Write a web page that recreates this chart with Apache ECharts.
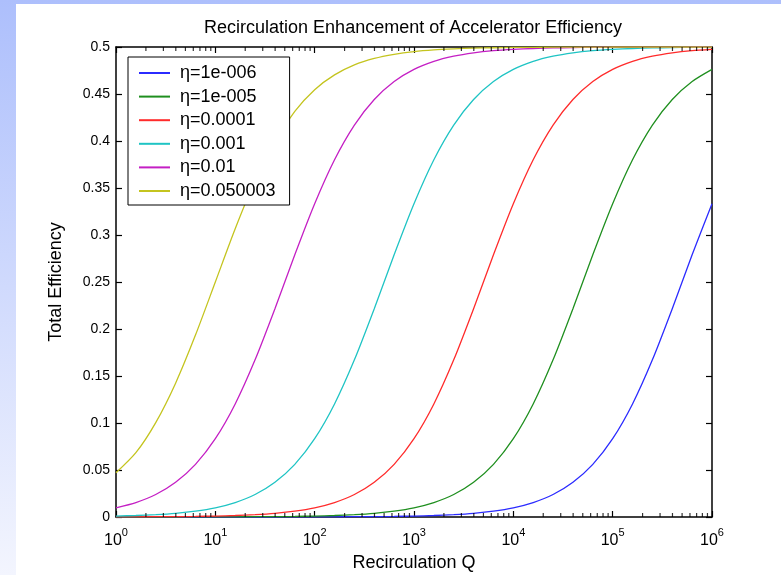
<!DOCTYPE html>
<html>
<head>
<meta charset="utf-8">
<script src="https://cdn.jsdelivr.net/npm/echarts@6/dist/echarts.min.js"></script>
<style>
html,body{margin:0;padding:0;background:#fff;}
#main{width:781px;height:575px;}
</style>
</head>
<body>
<div id="main"></div>
<script>
// Recirculation Q (x values, log-spaced, 5 per decade)
const Q = [1, 1.585, 2.512, 3.981, 6.31, 10, 15.85, 25.12, 39.81, 63.1,
  100, 158.5, 251.2, 398.1, 631, 1000, 1585, 2512, 3981, 6310,
  10000, 15849, 25119, 39811, 63096, 100000, 158489, 251189, 398107, 630957, 1000000];

const seriesNames = ['η=1e-006', 'η=1e-005', 'η=0.0001', 'η=0.001', 'η=0.01', 'η=0.050003'];

const eta1e6 = [0,0,0,0,0,0,0,0,0,0.0001,0.0001,0.0002,0.0003,0.0004,0.0006,0.001,0.0016,0.0025,0.0039,0.0062,0.0098,0.0154,0.0239,0.0369,0.056,0.0833,0.1203,0.1672,0.2216,0.279,0.3333];
const eta1e5 = [0,0,0,0,0.0001,0.0001,0.0002,0.0003,0.0004,0.0006,0.001,0.0016,0.0025,0.0039,0.0062,0.0098,0.0154,0.0239,0.0369,0.056,0.0833,0.1203,0.1672,0.2216,0.279,0.3333,0.3801,0.417,0.4442,0.4633,0.4762];
const eta1e4 = [0.0001,0.0002,0.0003,0.0004,0.0006,0.001,0.0016,0.0025,0.0039,0.0062,0.0098,0.0154,0.0239,0.0369,0.056,0.0833,0.1203,0.1672,0.2216,0.279,0.3333,0.3801,0.417,0.4442,0.4633,0.4762,0.4847,0.4902,0.4938,0.4961,0.4975];
const eta1e3 = [0.001,0.0016,0.0025,0.0039,0.0062,0.0098,0.0154,0.0239,0.0369,0.056,0.0833,0.1203,0.1672,0.2216,0.279,0.3333,0.3801,0.417,0.4442,0.4633,0.4762,0.4847,0.4902,0.4938,0.4961,0.4975,0.4984,0.499,0.4994,0.4996,0.4998];
const eta1e2 = [0.0098,0.0154,0.0239,0.0369,0.056,0.0833,0.1203,0.1672,0.2216,0.279,0.3333,0.3801,0.417,0.4442,0.4633,0.4762,0.4847,0.4902,0.4938,0.4961,0.4975,0.4984,0.499,0.4994,0.4996,0.4998,0.4998,0.4999,0.4999,0.5,0.5];
const eta005 = [0.047,0.0684,0.1004,0.1424,0.1935,0.25,0.3066,0.3576,0.3996,0.4316,0.4546,0.4703,0.4809,0.4878,0.4922,0.4951,0.4969,0.498,0.4988,0.4992,0.4995,0.4997,0.4998,0.4999,0.4999,0.5,0.5,0.5,0.5,0.5,0.5];

const seriesValues = [eta1e6, eta1e5, eta1e4, eta1e3, eta1e2, eta005];
const colors = ['#2b2bff', '#1f8f1f', '#ff2b2b', '#1fc4c4', '#c41fc4', '#c4c41f'];

const xTickExponents = ['0', '1', '2', '3', '4', '5', '6'];
const minorTickMultipliers = [2, 3, 4, 5, 6, 7, 8, 9];
const decades = [1, 10, 100, 1000, 10000, 100000];

const FONT = '"Liberation Sans", Arial, Helvetica, sans-serif';

const minorBottom = [], minorTop = [];
decades.forEach(d => minorTickMultipliers.forEach(m => {
  minorBottom.push([m * d, 0]);
  minorTop.push([m * d, 0.5]);
}));

const lineSeries = seriesNames.map((name, i) => ({
  name: name,
  type: 'line',
  data: Q.map((q, j) => [q, seriesValues[i][j]]),
  showSymbol: false,
  symbol: 'none',
  smooth: 0.25,
  lineStyle: { color: colors[i], width: 1.3 },
  itemStyle: { color: colors[i] },
  clip: true,
  silent: true,
  z: 3
}));

const tickSeries = [
  { type: 'scatter', data: minorBottom, symbol: 'rect', symbolSize: [1.2, 4], symbolOffset: [0, -2],
    itemStyle: { color: '#000' }, silent: true, clip: false, z: 5 },
  { type: 'scatter', data: minorTop, symbol: 'rect', symbolSize: [1.2, 4], symbolOffset: [0, 2],
    itemStyle: { color: '#000' }, silent: true, clip: false, z: 5 }
];

const axisLineStyle = { color: '#000', width: 1.5 };

const chart = echarts.init(document.getElementById('main'), null, { renderer: 'canvas' });
chart.setOption({
  animation: false,
  textStyle: { fontFamily: FONT },
  graphic: [
    { type: 'rect', z: -100, silent: true, shape: { x: 0, y: 0, width: 781, height: 575 },
      style: { fill: new echarts.graphic.LinearGradient(0, 0, 0, 1, [
        { offset: 0, color: '#adbffc' }, { offset: 1, color: '#f3f5fe' }]) } },
    { type: 'rect', z: -99, silent: true, shape: { x: 16, y: 4, width: 765, height: 571 },
      style: { fill: '#ffffff' } }
  ],
  title: {
    text: 'Recirculation Enhancement of Accelerator Efficiency',
    left: 408, top: 14, textAlign: 'center',
    textStyle: { fontFamily: FONT, fontSize: 18, fontWeight: 'normal', color: '#000' }
  },
  legend: {
    data: seriesNames,
    orient: 'vertical',
    left: 128, top: 57,
    padding: [7, 14, 5, 11],
    itemWidth: 31, itemHeight: 2, itemGap: 5.6,
    icon: 'rect',
    backgroundColor: '#fff',
    borderColor: '#000', borderWidth: 1,
    textStyle: { fontFamily: FONT, fontSize: 18, lineHeight: 18, color: '#000', padding: [0, 0, 0, 5] }
  },
  grid: { left: 116, right: 69, top: 47, bottom: 58, containLabel: false, outerBoundsMode: 'none' },
  xAxis: [
    { type: 'log', logBase: 10, min: 1, max: 1000000, splitNumber: 6, position: 'bottom',
      axisLine: { onZero: false, lineStyle: axisLineStyle },
      axisTick: { inside: true, length: 6, lineStyle: { color: '#000', width: 1.2 } },
      splitLine: { show: false },
      axisLabel: {
        margin: 10, color: '#000',
        formatter: (v) => '{b|10}{s|' + xTickExponents[Math.round(Math.log10(v))] + '}',
        rich: {
          b: { fontFamily: FONT, fontSize: 16, color: '#000' },
          s: { fontFamily: FONT, fontSize: 11, color: '#000', verticalAlign: 'top', padding: [0, 0, 16, 0] }
        }
      },
      name: 'Recirculation Q', nameLocation: 'middle', nameGap: 37, nameMoveOverlap: false,
      nameTextStyle: { fontFamily: FONT, fontSize: 18, color: '#000' }
    },
    { type: 'log', logBase: 10, min: 1, max: 1000000, splitNumber: 6, position: 'top',
      axisLine: { onZero: false, lineStyle: axisLineStyle },
      axisTick: { inside: true, length: 6, lineStyle: { color: '#000', width: 1.2 } },
      splitLine: { show: false }, axisLabel: { show: false } }
  ],
  yAxis: [
    { type: 'value', min: 0, max: 0.5, interval: 0.05, position: 'left',
      axisLine: { show: true, onZero: false, lineStyle: axisLineStyle },
      axisTick: { show: true, inside: true, length: 6, lineStyle: { color: '#000', width: 1.2 } },
      splitLine: { show: false },
      axisLabel: { margin: 6, color: '#000', fontFamily: FONT, fontSize: 14 },
      name: 'Total Efficiency', nameLocation: 'middle', nameGap: 51, nameRotate: 90, nameMoveOverlap: false,
      nameTextStyle: { fontFamily: FONT, fontSize: 18, color: '#000' }
    },
    { type: 'value', min: 0, max: 0.5, interval: 0.05, position: 'right',
      axisLine: { show: true, onZero: false, lineStyle: axisLineStyle },
      axisTick: { show: true, inside: true, length: 6, lineStyle: { color: '#000', width: 1.2 } },
      splitLine: { show: false }, axisLabel: { show: false } }
  ],
  series: lineSeries.concat(tickSeries)
});
</script>
</body>
</html>
